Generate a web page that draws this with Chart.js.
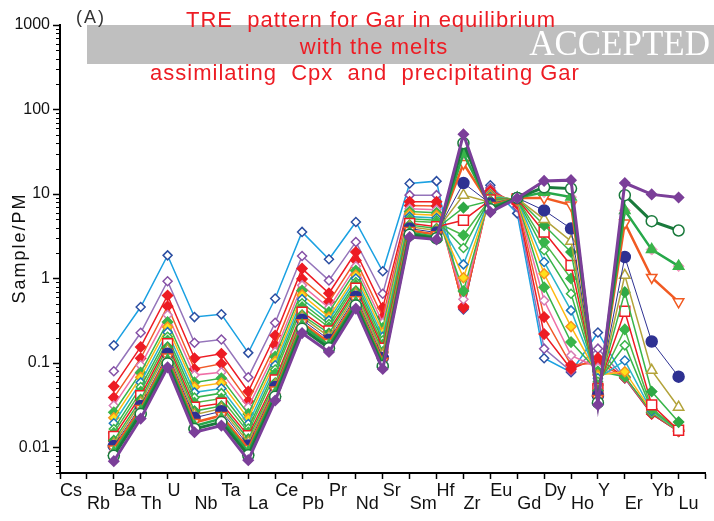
<!DOCTYPE html>
<html>
<head>
<meta charset="utf-8">
<style>
  html, body { margin: 0; padding: 0; background: #ffffff; }
  #wrap { width: 714px; height: 521px; }
</style>
<script src="https://cdn.jsdelivr.net/npm/chart.js@4/dist/chart.umd.min.js"></script>
</head>
<body>
<div id="wrap"><canvas id="c" width="714" height="521"></canvas></div>
<script>
// Primitive-mantle normalised trace elements, Cs ... Lu
const elements = ['Cs','Rb','Ba','Th','U','Nb','Ta','La','Ce','Pb','Pr','Nd','Sr','Sm','Hf','Zr','Eu','Gd','Dy','Ho','Y','Er','Yb','Lu'];

const yTickValues = [0.01, 0.1, 1, 10, 100, 1000];
const yTickLabels = ['0.01', '0.1', '1', '10', '100', '1000'];

// Garnet patterns, one array per melt step (Cs and Rb not modelled)
const step01 = [null, null, 0.162, 0.46, 1.88, 0.35, 0.377, 0.132, 0.58, 3.56, 1.69, 4.67, 1.22, 13.3, 14.2, 0.43, 12.7, 5.9, 0.114, 0.078, 0.23, 0.066, 0.025, 0.0155];
const step02 = [null, null, 0.080, 0.228, 0.93, 0.174, 0.19, 0.068, 0.30, 1.85, 0.95, 2.71, 0.66, 9.7, 9.7, 0.44, 11.8, 7.0, 0.148, 0.080, 0.148, 0.066, 0.025, 0.0155];
const step03 = [null, null, 0.053, 0.155, 0.63, 0.114, 0.129, 0.046, 0.212, 1.31, 0.67, 2.06, 0.45, 8.1, 8.1, 0.45, 11.0, 7.6, 0.22, 0.085, 0.115, 0.067, 0.025, 0.0155];
const step04 = [null, null, 0.039, 0.114, 0.47, 0.085, 0.098, 0.0354, 0.162, 0.99, 0.53, 1.64, 0.35, 7.3, 7.2, 0.47, 10.5, 8.0, 0.35, 0.095, 0.10, 0.068, 0.026, 0.0156];
const step05 = [null, null, 0.0315, 0.094, 0.37, 0.072, 0.078, 0.030, 0.135, 0.83, 0.45, 1.40, 0.30, 6.7, 6.5, 0.57, 10.1, 8.2, 0.55, 0.123, 0.088, 0.068, 0.026, 0.0157];
const step06 = [null, null, 0.0262, 0.077, 0.305, 0.059, 0.066, 0.025, 0.119, 0.72, 0.40, 1.24, 0.26, 6.2, 6.0, 0.71, 9.8, 8.4, 0.79, 0.177, 0.080, 0.069, 0.026, 0.0158];
const step07 = [null, null, 0.0225, 0.068, 0.267, 0.052, 0.058, 0.022, 0.105, 0.64, 0.35, 1.10, 0.23, 5.8, 5.6, 1.02, 9.5, 8.5, 1.14, 0.27, 0.072, 0.079, 0.027, 0.0159];
const step08 = [null, null, 0.0194, 0.059, 0.232, 0.045, 0.050, 0.019, 0.094, 0.57, 0.32, 1.00, 0.205, 5.4, 5.2, 1.47, 9.3, 8.6, 1.57, 0.42, 0.066, 0.107, 0.027, 0.016];
const step09 = [null, null, 0.0166, 0.052, 0.205, 0.039, 0.044, 0.0168, 0.084, 0.51, 0.29, 0.91, 0.185, 5.1, 4.9, 2.3, 9.0, 8.7, 2.16, 0.66, 0.060, 0.162, 0.028, 0.016];
const step10 = [null, null, 0.0149, 0.046, 0.185, 0.034, 0.038, 0.0152, 0.075, 0.46, 0.265, 0.84, 0.165, 4.8, 4.6, 3.25, 8.8, 8.8, 2.7, 1.0, 0.055, 0.25, 0.029, 0.0162];
const step11 = [null, null, 0.0135, 0.041, 0.169, 0.030, 0.0335, 0.0138, 0.063, 0.40, 0.24, 0.77, 0.15, 4.5, 4.1, 4.9, 8.5, 8.8, 3.55, 1.43, 0.050, 0.41, 0.032, 0.016];
const step12 = [null, null, 0.0121, 0.037, 0.155, 0.027, 0.031, 0.0126, 0.058, 0.37, 0.225, 0.71, 0.135, 4.3, 3.9, 6.9, 8.3, 8.9, 4.27, 2.06, 0.047, 0.69, 0.046, 0.020];
const step13 = [null, null, 0.0111, 0.034, 0.142, 0.0245, 0.029, 0.0115, 0.055, 0.35, 0.205, 0.66, 0.125, 4.1, 3.7, 9.7, 8.0, 8.9, 5.0, 2.76, 0.044, 1.09, 0.082, 0.030];
const step14 = [null, null, 0.0104, 0.031, 0.129, 0.0225, 0.0269, 0.0106, 0.052, 0.326, 0.189, 0.61, 0.115, 3.9, 3.5, 13.5, 7.7, 9.0, 6.4, 3.9, 0.041, 1.8, 0.18, 0.069];
const step15 = [null, null, 0.0096, 0.029, 0.118, 0.0198, 0.024, 0.0097, 0.048, 0.30, 0.175, 0.56, 0.105, 3.7, 3.3, 23, 7.3, 9.0, 9.0, 7.4, 0.038, 4.55, 1.03, 0.53];
const step16 = [null, null, 0.0088, 0.027, 0.108, 0.018, 0.022, 0.0089, 0.044, 0.28, 0.162, 0.52, 0.098, 3.5, 3.1, 30, 7.0, 9.0, 10.5, 9.2, 0.036, 6.4, 2.2, 1.4];
const step17 = [null, null, 0.0080, 0.025, 0.099, 0.0166, 0.020, 0.0081, 0.040, 0.255, 0.150, 0.48, 0.092, 3.3, 3.0, 40, 6.6, 9.0, 12.0, 11.6, 0.034, 9.7, 4.77, 3.7];
const step18 = [null, null, 0.0069, 0.022, 0.089, 0.0152, 0.0182, 0.0071, 0.036, 0.226, 0.135, 0.44, 0.085, 3.1, 2.9, 51, 6.1, 8.9, 14.3, 14.6, 0.032, 13.5, 9.9, 9.1];

const steps = [step01, step02, step03, step04, step05, step06, step07, step08, step09,
               step10, step11, step12, step13, step14, step15, step16, step17, step18];

// Line and marker look of each step
const looks = [
  { line: '#1ba1e2', w: 1.5, shape: 'rectRot',  r: 4.5, edge: '#2b4ea2', fill: '#ffffff' },
  { line: '#9474ba', w: 1.5, shape: 'rectRot',  r: 4.5, edge: '#8550a6', fill: '#ffffff' },
  { line: '#ed1c24', w: 1.5, shape: 'rectRot',  r: 5,   edge: '#ed1c24', fill: '#ed1c24' },
  { line: '#f15a29', w: 1.5, shape: 'rectRot',  r: 5,   edge: '#ed1c24', fill: '#ed1c24' },
  { line: '#ef6fa6', w: 1.5, shape: 'rectRot',  r: 4.5, edge: '#d67bb4', fill: '#ffffff' },
  { line: '#39b54a', w: 1.5, shape: 'rectRot',  r: 5,   edge: '#39b54a', fill: '#39b54a' },
  { line: '#fdb913', w: 1.5, shape: 'rectRot',  r: 5,   edge: '#f7941d', fill: '#ffe01a' },
  { line: '#2bb5c8', w: 1.5, shape: 'rectRot',  r: 4.5, edge: '#1c75bc', fill: '#ffffff' },
  { line: '#39b54a', w: 1.5, shape: 'rectRot',  r: 4.5, edge: '#39b54a', fill: '#ffffff' },
  { line: '#4cb848', w: 1.5, shape: 'rectRot',  r: 5,   edge: '#39b54a', fill: '#39b54a' },
  { line: '#ed1c24', w: 1.5, shape: 'rect',     r: 7,   edge: '#ed1c24', fill: '#ffffff' },
  { line: '#39b54a', w: 1.5, shape: 'rectRot',  r: 5,   edge: '#2ea845', fill: '#2ea845' },
  { line: '#b3a33a', w: 1.5, shape: 'triangle', r: 6,   edge: '#b3a33a', fill: '#ffffff' },
  { line: '#2e3192', w: 1,   shape: 'circle',   r: 5.5, edge: '#2e3192', fill: '#2e3192' },
  { line: '#f15a22', w: 2.5, shape: 'triangle', r: 6,   edge: '#f15a22', fill: '#ffffff', rot: 180 },
  { line: '#27a84a', w: 2.5, shape: 'triangle', r: 6,   edge: '#39b54a', fill: '#39b54a' },
  { line: '#1a7a3c', w: 3,   shape: 'circle',   r: 5.5, edge: '#1a7a3c', fill: '#ffffff' },
  { line: '#7b3f99', w: 3,   shape: 'rectRot',  r: 5,   edge: '#7b3f99', fill: '#7b3f99' }
];

const datasets = steps.map((vals, k) => {
  const s = looks[k];
  return {
    data: vals,
    order: (steps.length - 1 - k) * 2,
    borderColor: s.line,
    borderWidth: s.w,
    tension: 0,
    pointStyle: s.shape,
    pointRadius: s.r,
    pointRotation: s.rot || 0,
    pointBorderColor: s.edge,
    pointBackgroundColor: s.fill,
    pointBorderWidth: 1.5
  };
});
// pink diamonds sitting under the green triangles
datasets.push({
  data: step16,
  order: (steps.length - 1 - 15) * 2 + 1,
  showLine: false,
  pointStyle: 'rectRot',
  pointRadius: 5.5,
  pointBorderColor: '#f49ac1',
  pointBackgroundColor: '#f49ac1',
  pointBorderWidth: 1
});

const SANS = '"Liberation Sans", Arial, Helvetica, sans-serif';

// header box, titles and minor log ticks
const decor = {
  id: 'decor',
  beforeDatasetsDraw(chart) {
    const ctx = chart.ctx;
    ctx.save();
    ctx.fillStyle = '#bfbfbf';
    ctx.fillRect(87, 25, 714 - 87, 39);

    ctx.fillStyle = '#ffffff';
    ctx.font = '35px "Liberation Serif", "Times New Roman", serif';
    ctx.textAlign = 'right';
    ctx.textBaseline = 'alphabetic';
    ctx.fillText('ACCEPTED', 710, 55);

    ctx.fillStyle = '#ed1c24';
    ctx.font = '22px ' + SANS;
    ctx.textAlign = 'center';
    ctx.letterSpacing = '1px';
    ctx.fillText('TRE  pattern for Gar in equilibrium', 371, 27);
    ctx.fillText('with the melts', 374, 54);
    ctx.fillText('assimilating  Cpx  and  precipitating Gar', 365, 80);

    ctx.fillStyle = '#333333';
    ctx.font = '18px ' + SANS;
    ctx.textAlign = 'left';
    ctx.letterSpacing = '2px';
    ctx.fillText('(A)', 76, 23);

    ctx.fillStyle = '#111111';
    ctx.font = '18px ' + SANS;
    ctx.letterSpacing = '2px';
    ctx.translate(25, 248);
    ctx.rotate(-Math.PI / 2);
    ctx.textAlign = 'center';
    ctx.fillText('Sample/PM', 0, 0);
    ctx.restore();
  },
  afterDraw(chart) {
    const y = chart.scales.y;
    const ctx = chart.ctx;
    const x0 = chart.chartArea.left;
    ctx.save();
    ctx.strokeStyle = '#000';
    ctx.lineWidth = 1;
    for (let e = -3; e <= 2; e++) {
      for (let m = 2; m <= 9; m++) {
        const v = m * Math.pow(10, e);
        if (v < y.min || v > y.max) continue;
        const py = Math.round(y.getPixelForValue(v)) + 0.5;
        ctx.beginPath();
        ctx.moveTo(x0 - 4, py);
        ctx.lineTo(x0, py);
        ctx.stroke();
      }
    }
    ctx.restore();
  }
};

new Chart(document.getElementById('c'), {
  type: 'line',
  data: { labels: elements.concat(['']), datasets },
  options: {
    responsive: false,
    animation: false,
    layout: { padding: { top: 25, left: 0, right: 0, bottom: 0 } },
    plugins: { legend: { display: false }, tooltip: { enabled: false } },
    scales: {
      x: {
        type: 'category',
        offset: false,
        grid: { drawOnChartArea: false, drawTicks: true, tickLength: 6, tickColor: '#000', tickWidth: 1.5 },
        border: { display: true, color: '#000', width: 2 },
        ticks: {
          autoSkip: false, maxRotation: 0, minRotation: 0, align: 'start', padding: 6,
          color: '#111',
          font: { family: SANS, size: 18, lineHeight: '13px' },
          callback: (v, i) => i >= elements.length ? '' : (i % 2 === 0 ? [elements[i]] : ['', elements[i]])
        },
        afterFit: s => { s.height = 48; s.paddingLeft = 0; s.paddingRight = 0; }
      },
      y: {
        type: 'logarithmic',
        min: 0.005,
        max: 1000,
        afterBuildTicks: s => { s.ticks = yTickValues.map(v => ({ value: v, major: true })); },
        grid: { drawOnChartArea: false, drawTicks: true, tickLength: 7, tickColor: '#000', tickWidth: 1.5 },
        border: { display: true, color: '#000', width: 2 },
        ticks: {
          padding: 3, color: '#111',
          font: { family: SANS, size: 16 },
          callback: v => { const i = yTickValues.indexOf(v); return i >= 0 ? yTickLabels[i] : ''; }
        },
        afterFit: s => { s.width = 60; s.paddingTop = 0; s.paddingBottom = 0; }
      }
    }
  },
  plugins: [decor]
});
</script>
</body>
</html>
